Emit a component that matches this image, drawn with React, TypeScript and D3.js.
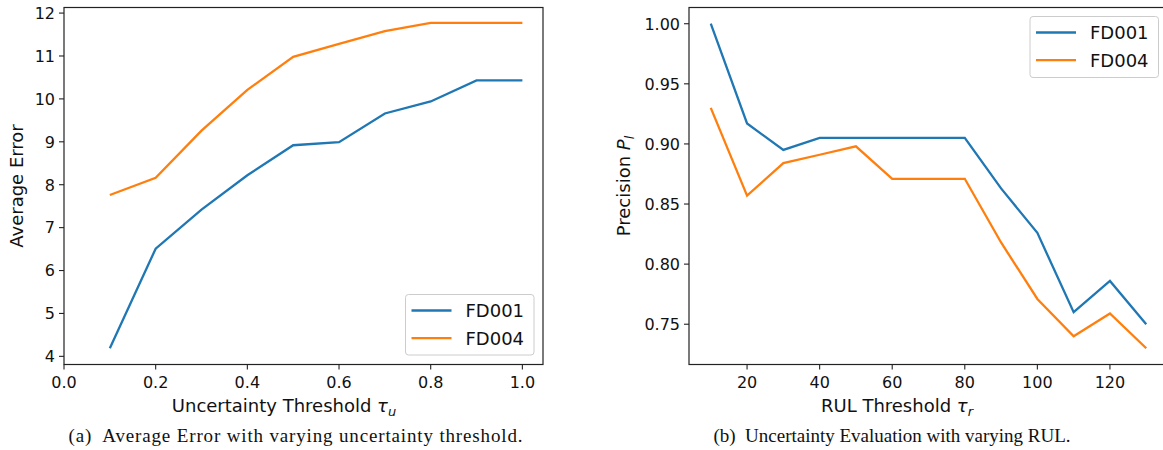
import React from "react";
import * as d3 from "d3";

// Panel (a)
const tauU = [0.1, 0.2, 0.3, 0.4, 0.5, 0.6, 0.7, 0.8, 0.9, 1.0];
const errFD001 = [4.19, 6.51, 7.42, 8.22, 8.92, 8.99, 9.66, 9.94, 10.43, 10.43];
const errFD004 = [7.76, 8.16, 9.26, 10.21, 10.98, 11.28, 11.58, 11.77, 11.77, 11.77];
const xTicksA = [0.0, 0.2, 0.4, 0.6, 0.8, 1.0];
const yTicksA = [4, 5, 6, 7, 8, 9, 10, 11, 12];

// Panel (b)
const tauR = [10, 20, 30, 40, 50, 60, 70, 80, 90, 100, 110, 120, 130];
const precFD001 = [1.0, 0.917, 0.895, 0.905, 0.905, 0.905, 0.905, 0.905, 0.863, 0.826, 0.76, 0.786, 0.75];
const precFD004 = [0.93, 0.857, 0.884, 0.891, 0.898, 0.871, 0.871, 0.871, 0.818, 0.771, 0.74, 0.759, 0.73];
const xTicksB = [20, 40, 60, 80, 100, 120];
const yTicksB = [0.75, 0.8, 0.85, 0.9, 0.95, 1.0];

const seriesNames = ["FD001", "FD004"];
const colors = ["#1f77b4", "#ff7f0e"];

const FONT = "DejaVu Sans, sans-serif";
const SERIF = "Liberation Serif, Times New Roman, serif";

type PanelProps = {
  x0: number; x1: number; y0: number; y1: number;
  xDomain: [number, number]; yDomain: [number, number];
  xs: number[]; ys: number[][];
  xTicks: number[]; yTicks: number[];
  xFmt: (v: number) => string; yFmt: (v: number) => string;
  xLabel: React.ReactNode; xLabelX: number; yLabel: React.ReactNode; yLabelX: number;
  legend: { x: number; y: number; w: number; h: number };
  caption: string; captionX: number; captionW?: number;
};

function Panel(p: PanelProps) {
  const x = d3.scaleLinear().domain(p.xDomain).range([p.x0, p.x1]);
  const y = d3.scaleLinear().domain(p.yDomain).range([p.y1, p.y0]);
  const line = d3.line<[number, number]>().x(d => x(d[0])).y(d => y(d[1]));
  return (
    <g>
      {p.ys.map((s, i) => (
        <path key={i} d={line(p.xs.map((v, j) => [v, s[j]]) as [number, number][]) || ""}
          fill="none" stroke={colors[i]} strokeWidth={2.3} strokeLinejoin="miter" />
      ))}
      <rect x={p.x0} y={p.y0} width={p.x1 - p.x0} height={p.y1 - p.y0} fill="none" stroke="#222" strokeWidth={1.2} />
      {p.xTicks.map(t => (
        <g key={"x" + t}>
          <line x1={x(t)} x2={x(t)} y1={p.y1} y2={p.y1 + 5} stroke="#222" strokeWidth={1.1} />
          <text x={x(t)} y={p.y1 + 23} textAnchor="middle" fontFamily={FONT} fontSize={16} fill="#111">{p.xFmt(t)}</text>
        </g>
      ))}
      {p.yTicks.map(t => (
        <g key={"y" + t}>
          <line x1={p.x0 - 5} x2={p.x0} y1={y(t)} y2={y(t)} stroke="#222" strokeWidth={1.1} />
          <text x={p.x0 - 9} y={y(t) + 5.8} textAnchor="end" fontFamily={FONT} fontSize={16} fill="#111">{p.yFmt(t)}</text>
        </g>
      ))}
      <text x={p.xLabelX} y={p.y1 + 47} textAnchor="middle" fontFamily={FONT} fontSize={18} fill="#111">{p.xLabel}</text>
      <text transform={`translate(${p.yLabelX},${(p.y0 + p.y1) / 2}) rotate(-90)`} textAnchor="middle" fontFamily={FONT} fontSize={18} fill="#111">{p.yLabel}</text>
      <rect x={p.legend.x} y={p.legend.y} width={p.legend.w} height={p.legend.h} rx={3} fill="white" fillOpacity={0.8} stroke="#cccccc" strokeWidth={1} />
      {seriesNames.map((n, i) => (
        <g key={n}>
          <line x1={p.legend.x + 6} x2={p.legend.x + 46} y1={p.legend.y + 16 + i * 27.7} y2={p.legend.y + 16 + i * 27.7} stroke={colors[i]} strokeWidth={2.3} />
          <text x={p.legend.x + 60} y={p.legend.y + 22.5 + i * 27.7} fontFamily={FONT} fontSize={18} fill="#111">{n}</text>
        </g>
      ))}
      {p.captionW ? (
        <text x={p.captionX - p.captionW / 2} y={441.5} fontFamily={SERIF} fontSize={19} fill="#111"
          textLength={p.captionW} lengthAdjust="spacing" style={{ whiteSpace: "pre" }}>{p.caption}</text>
      ) : (
        <text x={p.captionX} y={441.5} textAnchor="middle" fontFamily={SERIF} fontSize={19} fill="#111" style={{ whiteSpace: "pre" }}>{p.caption}</text>
      )}
    </g>
  );
}

export default function App() {
  return (
    <svg width={1163} height={450} style={{ position: "absolute", left: 0, top: 0, background: "white" }}>
      <Panel x0={64} x1={543} y0={7.5} y1={364.5}
        xDomain={[0, 1.045]} yDomain={[3.81, 12.13]}
        xs={tauU} ys={[errFD001, errFD004]}
        xTicks={xTicksA} yTicks={yTicksA}
        xFmt={v => v.toFixed(1)} yFmt={v => String(v)}
        xLabel={<>Uncertainty Threshold <tspan fontStyle="italic">τ</tspan><tspan fontStyle="italic" fontSize={13} dy={4}>u</tspan></>} xLabelX={284}
        yLabel="Average Error" yLabelX={23}
        legend={{ x: 405.5, y: 294.5, w: 128.5, h: 60.5 }}
        caption="(a)  Average Error with varying uncertainty threshold." captionX={295.5} captionW={454} />
      <Panel x0={689} x1={1168} y0={7.5} y1={364.5}
        xDomain={[4, 136]} yDomain={[0.7165, 1.0135]}
        xs={tauR} ys={[precFD001, precFD004]}
        xTicks={xTicksB} yTicks={yTicksB}
        xFmt={v => String(v)} yFmt={v => v.toFixed(2)}
        xLabel={<>RUL Threshold <tspan fontStyle="italic">τ</tspan><tspan fontStyle="italic" fontSize={13} dy={4}>r</tspan></>} xLabelX={897}
        yLabel={<>Precision <tspan fontStyle="italic">P</tspan><tspan fontStyle="italic" fontSize={13} dy={4}>l</tspan></>} yLabelX={630}
        legend={{ x: 1030, y: 16.5, w: 128.5, h: 61 }}
        caption="(b)  Uncertainty Evaluation with varying RUL." captionX={892} />
    </svg>
  );
}
